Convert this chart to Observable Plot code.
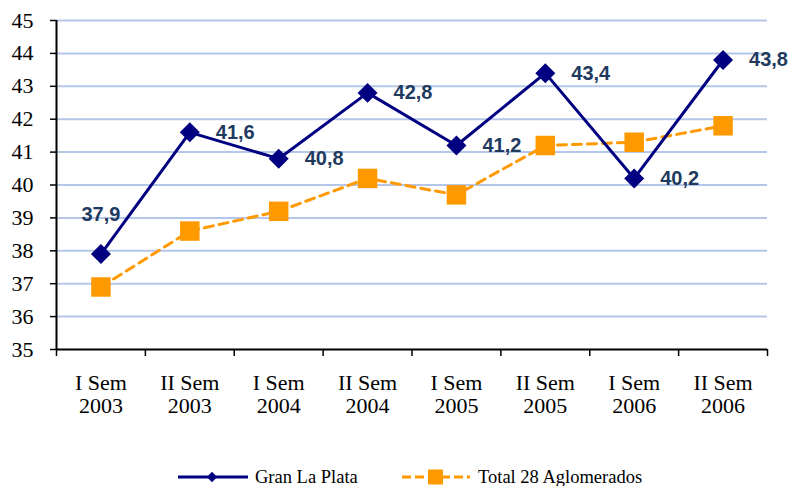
<!DOCTYPE html>
<html><head><meta charset="utf-8">
<script src="https://cdn.jsdelivr.net/npm/d3@7"></script>
<script src="https://cdn.jsdelivr.net/npm/@observablehq/plot@0.6"></script>
<style>
body{margin:0;background:#fff;width:790px;height:486px;overflow:hidden}
#chart svg{display:block}
#legend svg{display:block}
.serif, .serif text{font-family:"Liberation Serif","Times New Roman",serif}
</style></head>
<body><div id="chart"></div><div id="legend"></div>
<script>
const categories = ["I Sem\n2003","II Sem\n2003","I Sem\n2004","II Sem\n2004","I Sem\n2005","II Sem\n2005","I Sem\n2006","II Sem\n2006"];
const granLaPlata = [37.9, 41.6, 40.8, 42.8, 41.2, 43.4, 40.2, 43.8];
const total28 = [36.9, 38.6, 39.2, 40.2, 39.7, 41.2, 41.3, 41.8];
const yTicks = [35,36,37,38,39,40,41,42,43,44,45];
const seriesNames = ["Gran La Plata", "Total 28 Aglomerados"];

const rows = categories.map((c, i) => ({i, pos: i + 0.5, c, g: granLaPlata[i], t: total28[i]}));
const fmt = v => v.toFixed(1).replace(".", ",");
const navy = "#000080", orange = "#FF9900", labelColor = "#1f3a5f";
const serif = "Liberation Serif";
const sans = "Liberation Sans";

const chart = Plot.plot({
  width: 790, height: 440,
  marginTop: 20, marginBottom: 91, marginLeft: 56, marginRight: 23,
  style: {color: "#000", background: "#fff", fontFamily: "Liberation Serif, serif"},
  x: {domain: [0, 8]},
  y: {domain: [35, 45]},
  marks: [
    Plot.ruleY(yTicks.slice(1), {stroke: "#b4c7e9", strokeWidth: 2}),
    Plot.axisY({ticks: yTicks, tickSize: 6, tickPadding: 17, fontSize: 22, fontFamily: serif, className: "serif", label: null, strokeWidth: 1.5, tickFormat: d => String(d)}),
    Plot.axisX({ticks: d3.range(0, 9), tickSize: 7, tickFormat: () => "", label: null, strokeWidth: 1.5}),
    Plot.axisX({ticks: rows.map(d => d.pos), tickSize: 0, tickPadding: 24, tickFormat: d => categories[Math.floor(d)], fontSize: 22, fontFamily: serif, className: "serif", lineHeight: 1.05, label: null}),
    Plot.ruleX([0], {stroke: "#000", strokeWidth: 2}),
    Plot.ruleY([35], {stroke: "#000", strokeWidth: 2}),
    Plot.line(rows, {x: "pos", y: "t", stroke: orange, strokeWidth: 3, strokeDasharray: "9,6"}),
    Plot.dot(rows, {x: "pos", y: "t", symbol: "square", r: 11, fill: orange}),
    Plot.line(rows, {x: "pos", y: "g", stroke: navy, strokeWidth: 3}),
    Plot.dot(rows, {x: "pos", y: "g", symbol: "diamond2", r: 9, fill: navy}),
    Plot.text(rows.slice(1), {x: "pos", y: "g", text: d => fmt(d.g), dx: 26, textAnchor: "start", fontWeight: "bold", fontSize: 20, fontFamily: sans, fill: labelColor}),
    Plot.text(rows.slice(0, 1), {x: "pos", y: "g", text: d => fmt(d.g), dy: -39, textAnchor: "middle", fontWeight: "bold", fontSize: 20, fontFamily: sans, fill: labelColor})
  ]
});
document.getElementById("chart").appendChild(chart);

// Legend
const lg = d3.select("#legend").append("svg").attr("width", 790).attr("height", 46).attr("class", "serif");
const cy = 37;
lg.append("line").attr("x1", 178).attr("x2", 248).attr("y1", cy).attr("y2", cy).attr("stroke", navy).attr("stroke-width", 3);
lg.append("path").attr("d", d3.symbol(d3.symbolDiamond2, 70)()).attr("transform", `translate(212,${cy})`).attr("fill", navy);
lg.append("text").attr("x", 255).attr("y", cy + 6).attr("font-size", 18.5).text(seriesNames[0]);
lg.append("line").attr("x1", 402).attr("x2", 470).attr("y1", cy).attr("y2", cy).attr("stroke", orange).attr("stroke-width", 3).attr("stroke-dasharray", "9,4");
lg.append("rect").attr("x", 428).attr("y", cy - 7.5).attr("width", 15).attr("height", 15).attr("fill", orange);
lg.append("text").attr("x", 478).attr("y", cy + 6).attr("font-size", 18.5).text(seriesNames[1]);
</script>
</body></html>
